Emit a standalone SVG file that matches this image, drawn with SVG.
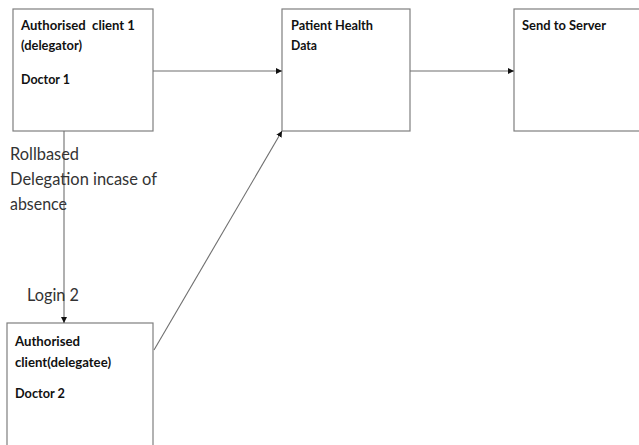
<svg xmlns="http://www.w3.org/2000/svg" width="639" height="445" viewBox="0 0 639 445">
  <style>
    .box { fill: #ffffff; stroke: #7f7f7f; stroke-width: 1.2; }
    .title { font-family: Lato, "Liberation Sans", sans-serif; font-weight: bold; font-size: 14px; fill: #111111; }
    .label { font-family: Lato, "Liberation Sans", sans-serif; font-size: 17.5px; fill: #333333; }
    .edge { fill: none; stroke: #6f6f6f; stroke-width: 1.1; marker-end: url(#arrow); }
  </style>
  <defs>
    <marker id="arrow" viewBox="0 0 10 10" refX="10" refY="5" markerWidth="6" markerHeight="6" markerUnits="userSpaceOnUse" orient="auto">
      <path d="M0,0 L10,5 L0,10 z" fill="#111111"/>
    </marker>
  </defs>
  <rect width="639" height="445" fill="#ffffff"/>

  <g id="client1">
    <rect class="box" x="13" y="9" width="140" height="122"/>
    <text class="title" x="21" y="30" textLength="114" lengthAdjust="spacingAndGlyphs" xml:space="preserve">Authorised  client 1</text>
    <text class="title" x="21" y="50" textLength="61" lengthAdjust="spacingAndGlyphs">(delegator)</text>
    <text class="title" x="21" y="84" textLength="49" lengthAdjust="spacingAndGlyphs">Doctor 1</text>
  </g>

  <g id="health-data">
    <rect class="box" x="282" y="9" width="128" height="122"/>
    <text class="title" x="291" y="30" textLength="82" lengthAdjust="spacingAndGlyphs">Patient Health</text>
    <text class="title" x="291" y="50" textLength="26" lengthAdjust="spacingAndGlyphs">Data</text>
  </g>

  <g id="server">
    <rect class="box" x="514" y="9" width="140" height="122"/>
    <text class="title" x="522" y="30" textLength="84" lengthAdjust="spacingAndGlyphs">Send to Server</text>
  </g>

  <g id="client2">
    <rect class="box" x="7" y="323" width="146" height="140"/>
    <text class="title" x="15" y="346" textLength="65" lengthAdjust="spacingAndGlyphs">Authorised</text>
    <text class="title" x="15" y="367" textLength="96" lengthAdjust="spacingAndGlyphs">client(delegatee)</text>
    <text class="title" x="15" y="398" textLength="50" lengthAdjust="spacingAndGlyphs">Doctor 2</text>
  </g>

  <g id="connectors">
    <line class="edge" x1="153" y1="71" x2="282" y2="71"/>
    <line class="edge" x1="410" y1="71" x2="514" y2="71"/>
    <line class="edge" x1="64" y1="131" x2="64" y2="323"/>
    <line class="edge" x1="154" y1="350" x2="282" y2="131"/>
  </g>

  <g id="labels">
    <text class="label" x="10" y="160" textLength="69" lengthAdjust="spacingAndGlyphs">Rollbased</text>
    <text class="label" x="10" y="185" textLength="147" lengthAdjust="spacingAndGlyphs">Delegation incase of</text>
    <text class="label" x="10" y="210" textLength="57" lengthAdjust="spacingAndGlyphs">absence</text>
    <text class="label" x="27" y="301" textLength="52" lengthAdjust="spacingAndGlyphs">Login 2</text>
  </g>
</svg>
